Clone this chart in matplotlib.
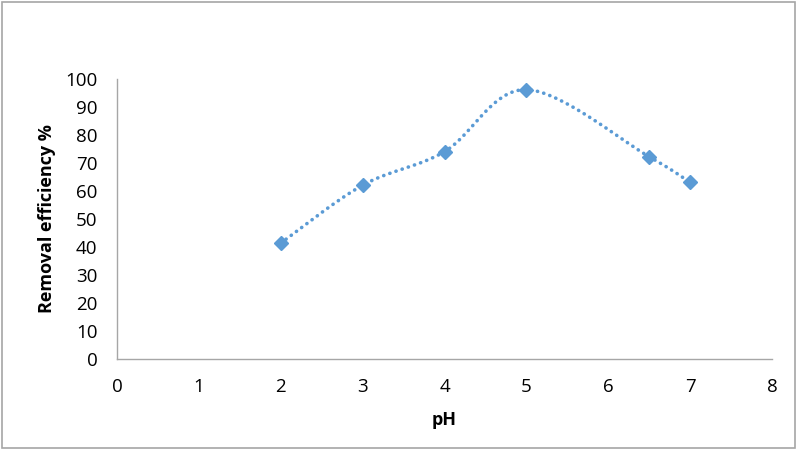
import numpy as np
import matplotlib
matplotlib.use("Agg")
from matplotlib import pyplot as plt
from matplotlib.patches import Rectangle

# data
ph = [2, 3, 4, 5, 6.5, 7]
removal = [41.3, 62, 74, 96.2, 72.2, 63]


def smooth(x, y, n=40):
	# Catmull-Rom style smoothing, like excel's smoothed line
	x = np.asarray(x, float)
	y = np.asarray(y, float)
	px = np.concatenate([[x[0]], x, [x[-1]]])
	py = np.concatenate([[y[0]], y, [y[-1]]])
	xs, ys = [], []
	for i in range(1, len(px) - 2):
		p0 = np.array([px[i-1], py[i-1]])
		p1 = np.array([px[i], py[i]])
		p2 = np.array([px[i+1], py[i+1]])
		p3 = np.array([px[i+2], py[i+2]])
		c1 = p1 + (p2 - p0) / 6
		c2 = p2 - (p3 - p1) / 6
		t = np.linspace(0, 1, n)[:, None]
		b = (1-t)**3*p1 + 3*(1-t)**2*t*c1 + 3*(1-t)*t**2*c2 + t**3*p2
		xs.extend(b[:, 0])
		ys.extend(b[:, 1])
	return np.array(xs), np.array(ys)


plt.rcParams['font.family'] = ['Open Sans', 'DejaVu Sans']
fig = plt.figure(figsize=(7.98, 4.49), dpi=100)
ax = fig.add_axes([117/798, 1-358.5/449, (772-117)/798, (358.5-79)/449])

sx, sy = smooth(ph, removal)
ax.plot(sx, sy, color='#5B9BD5', lw=2.6, linestyle=(0, (0.05, 1.75)), dash_capstyle='round')
ax.plot(ph, removal, linestyle='none', marker='D', ms=7.5, color='#5B9BD5')

ax.set_xlim(0, 8)
ax.set_ylim(0, 100)
ax.set_xticks(range(0, 9))
ax.set_yticks(range(0, 101, 10))
ax.tick_params(length=0, labelsize=13.5)
ax.tick_params(axis='x', pad=14)
ax.tick_params(axis='y', pad=14)
for s in ['top', 'right']:
	ax.spines[s].set_visible(False)
for s in ['left', 'bottom']:
	ax.spines[s].set_color('#A6A6A6')
	ax.spines[s].set_linewidth(1)

ax.set_xlabel('pH', fontsize=13, fontweight='bold', labelpad=11)
ax.set_ylabel('Removal efficiency %', fontsize=13, fontweight='bold', labelpad=7)

fig.patches.append(Rectangle((0.002, 0.003), 0.994, 0.993, transform=fig.transFigure,
	fill=False, edgecolor='#A6A6A6', lw=1.2))

fig.savefig('out.png', dpi=100)
